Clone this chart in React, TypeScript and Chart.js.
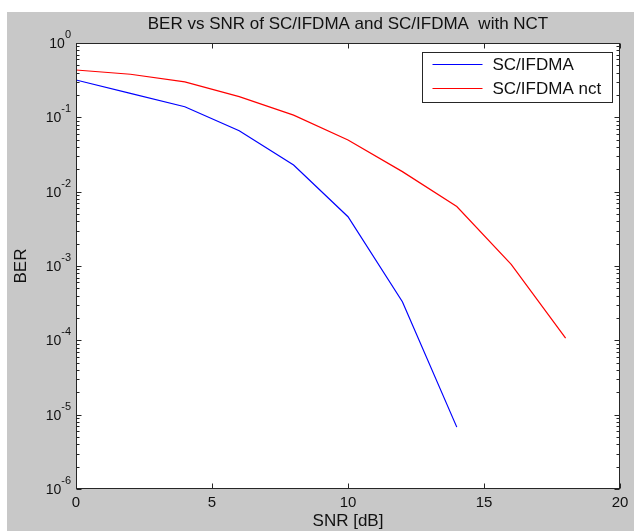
import { useEffect, useRef } from "react";
import { Chart, registerables } from "chart.js";

Chart.register(...registerables);

const snrSC = [0, 2, 4, 6, 8, 10, 12, 14];
const berSC = [0.318, 0.21, 0.139, 0.066, 0.0228, 0.0046, 0.00033, 0.0000068];
const snrNCT = [0, 2, 4, 6, 8, 10, 12, 14, 16, 18];
const berNCT = [0.433, 0.38, 0.3, 0.19, 0.107, 0.0495, 0.0186, 0.0063, 0.00105, 0.000107];
const seriesLabels = ["SC/IFDMA", "SC/IFDMA nct"];
const xTicks = [0, 5, 10, 15, 20];
const yExponents = [0, -1, -2, -3, -4, -5, -6];

const FONT = "'Liberation Sans', Arial, sans-serif";
const INK = "#111111";

const decorPlugin = {
  id: "decor",
  beforeDraw(chart: any) {
    const { ctx, width, height, chartArea } = chart;
    ctx.save();
    ctx.fillStyle = "#ffffff";
    ctx.fillRect(0, 0, width, height);
    ctx.fillStyle = "#c8c8c8";
    ctx.fillRect(7, 12, width - 7, height - 12);
    ctx.fillStyle = "#ffffff";
    ctx.fillRect(chartArea.left, chartArea.top, chartArea.right - chartArea.left, chartArea.bottom - chartArea.top);
    ctx.restore();
  },
  afterDraw(chart: any) {
    const { ctx, chartArea } = chart;
    const xs = chart.scales.x;
    const ys = chart.scales.y;
    const L = Math.round(chartArea.left) + 0.5;
    const R = Math.round(chartArea.right) - 0.5;
    const T = Math.round(chartArea.top) + 0.5;
    const B = Math.round(chartArea.bottom) - 0.5;
    ctx.save();
    ctx.strokeStyle = "#262626";
    ctx.lineWidth = 1;
    ctx.strokeRect(L, T, R - L, B - T);
    ctx.beginPath();
    for (const v of xTicks) {
      const px = Math.round(xs.getPixelForValue(v)) + 0.5;
      ctx.moveTo(px, B);
      ctx.lineTo(px, B - 5);
      ctx.moveTo(px, T);
      ctx.lineTo(px, T + 5);
    }
    for (const e of yExponents) {
      const py = Math.round(ys.getPixelForValue(Math.pow(10, e))) + 0.5;
      ctx.moveTo(L, py);
      ctx.lineTo(L + 5, py);
      ctx.moveTo(R, py);
      ctx.lineTo(R - 5, py);
      if (e > -6) {
        for (let m = 2; m <= 9; m++) {
          const pm = Math.round(ys.getPixelForValue(m * Math.pow(10, e - 1))) + 0.5;
          ctx.moveTo(L, pm);
          ctx.lineTo(L + 3, pm);
          ctx.moveTo(R, pm);
          ctx.lineTo(R - 3, pm);
        }
      }
    }
    ctx.stroke();
    ctx.fillStyle = INK;
    ctx.textBaseline = "middle";
    for (const e of yExponents) {
      const py = ys.getPixelForValue(Math.pow(10, e));
      const exp = String(e);
      ctx.font = `11px ${FONT}`;
      const ew = ctx.measureText(exp).width;
      ctx.textAlign = "left";
      const expX = chartArea.left - 5 - ew;
      ctx.fillText(exp, expX, py - 8);
      ctx.font = `14px ${FONT}`;
      ctx.textAlign = "right";
      ctx.fillText("10", expX, py + 1);
    }
    const lw = 190;
    const lh = 50;
    const lx = Math.round(chartArea.right) - 8 - lw + 0.5;
    const ly = Math.round(chartArea.top) + 9 + 0.5;
    ctx.fillStyle = "#ffffff";
    ctx.fillRect(lx, ly, lw, lh);
    ctx.strokeStyle = "#262626";
    ctx.lineWidth = 1;
    ctx.strokeRect(lx, ly, lw, lh);
    chart.data.datasets.forEach((ds: any, i: number) => {
      const y = ly + 12 + i * 24;
      ctx.strokeStyle = ds.borderColor;
      ctx.lineWidth = 1.2;
      ctx.beginPath();
      ctx.moveTo(lx + 10, y);
      ctx.lineTo(lx + 60, y);
      ctx.stroke();
      ctx.fillStyle = INK;
      ctx.font = `17px ${FONT}`;
      ctx.textAlign = "left";
      ctx.textBaseline = "middle";
      ctx.fillText(ds.label, lx + 70, y + 1);
    });
    ctx.restore();
  },
};

export default function App() {
  const ref = useRef<HTMLCanvasElement | null>(null);
  useEffect(() => {
    document.body.style.margin = "0";
    if (!ref.current) return;
    const chart = new Chart(ref.current, {
      type: "line",
      data: {
        datasets: [
          {
            label: seriesLabels[0],
            data: snrSC.map((x, i) => ({ x, y: berSC[i] })),
            borderColor: "#0000ff",
            borderWidth: 1.2,
            pointRadius: 0,
            tension: 0,
            fill: false,
          },
          {
            label: seriesLabels[1],
            data: snrNCT.map((x, i) => ({ x, y: berNCT[i] })),
            borderColor: "#ff0000",
            borderWidth: 1.2,
            pointRadius: 0,
            tension: 0,
            fill: false,
          },
        ],
      },
      options: {
        responsive: false,
        animation: false,
        devicePixelRatio: 1,
        layout: { padding: { left: 0, right: 14, top: 0, bottom: 0 } },
        plugins: {
          legend: { display: false },
          tooltip: { enabled: false },
          title: {
            display: true,
            text: "BER vs SNR of SC/IFDMA and SC/IFDMA  with NCT",
            color: INK,
            fullSize: false,
            font: { family: FONT, size: 17, weight: "normal", lineHeight: 1.2 },
            padding: { top: 14, bottom: 8.6 },
          },
        },
        scales: {
          x: {
            type: "linear",
            min: 0,
            max: 20,
            afterFit: (s: any) => {
              s.height = 42;
            },
            afterBuildTicks: (s: any) => {
              s.ticks = xTicks.map((v) => ({ value: v }));
            },
            grid: { display: false, drawTicks: false },
            border: { display: false },
            ticks: {
              color: INK,
              font: { family: FONT, size: 15 },
              padding: 5,
              maxRotation: 0,
              autoSkip: false,
            },
            title: {
              display: true,
              text: "SNR [dB]",
              color: INK,
              font: { family: FONT, size: 17, lineHeight: 1.2 },
              padding: { top: 0, bottom: -1 },
            },
          },
          y: {
            type: "logarithmic",
            min: 1e-6,
            max: 1,
            afterFit: (s: any) => {
              s.width = 76;
            },
            grid: { display: false, drawTicks: false },
            border: { display: false },
            ticks: { display: false },
            title: {
              display: true,
              text: "BER",
              color: INK,
              font: { family: FONT, size: 17, lineHeight: 1.2 },
              padding: { top: 11, bottom: 0 },
            },
          },
        },
      },
      plugins: [decorPlugin],
    } as any);
    return () => chart.destroy();
  }, []);
  return <canvas ref={ref} width={634} height={531} style={{ display: "block", width: 634, height: 531 }} />;
}
